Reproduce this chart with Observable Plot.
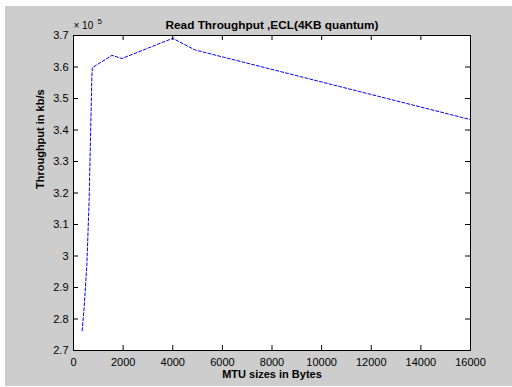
<!DOCTYPE html>
<html>
<head>
<meta charset="utf-8">
<script src="https://cdn.jsdelivr.net/npm/d3@7"></script>
<script src="https://cdn.jsdelivr.net/npm/@observablehq/plot@0.6"></script>
<style>
  html, body { margin: 0; padding: 0; background: #ffffff; }
  #wrap { position: relative; width: 512px; height: 387px; overflow: hidden; }
  #bg { position: absolute; left: 5px; top: 6px; width: 507px; height: 380px; background: #cdcdcd; }
  #chart { position: absolute; left: 0; top: 0; }
  #chart svg { background: transparent; font-family: "Liberation Sans", Arial, sans-serif; }
</style>
</head>
<body>
<div id="wrap"><div id="bg"></div><div id="chart"></div></div>
<script>
// MTU size (bytes)
const mtu = [350, 430, 540, 630, 740, 760, 1550, 1950, 4000, 4900, 16000];
// Throughput in kb/s, in units of 10^5
const throughput = [2.763, 2.837, 2.975, 3.176, 3.57, 3.598, 3.637, 3.627, 3.691, 3.654, 3.433];
const xTicks = [0, 2000, 4000, 6000, 8000, 10000, 12000, 14000, 16000];
const yTicks = [2.7, 2.8, 2.9, 3.0, 3.1, 3.2, 3.3, 3.4, 3.5, 3.6, 3.7];
const title = "Read Throughput ,ECL(4KB quantum)";
const xLabel = "MTU sizes in Bytes";
const yLabel = "Throughput in kb/s";

const data = mtu.map((m, i) => ({mtu: m, tp: throughput[i]}));

const W = 512, H = 387;
const mL = 73, mR = 42, mT = 35, mB = 37;
const pw = W - mL - mR, ph = H - mT - mB;
const tk = 5;
const font = "Liberation Sans, Arial, sans-serif";

const plot = Plot.plot({
  width: W,
  height: H,
  marginLeft: mL, marginRight: mR, marginTop: mT, marginBottom: mB,
  style: {background: "transparent", fontFamily: font, fontSize: "11px", color: "#000"},
  x: {domain: [0, 16000]},
  y: {domain: [2.7, 3.7]},
  marks: [
    Plot.frame({fill: "white", stroke: "none"}),
    Plot.line(data, {x: "mtu", y: "tp", stroke: "#0000ff", strokeWidth: 1, strokeDasharray: "3,2"}),
    // inward ticks on all four sides
    Plot.tickX(xTicks, {x: d => d, insetTop: ph - tk, stroke: "#000"}),
    Plot.tickX(xTicks, {x: d => d, insetBottom: ph - tk, stroke: "#000"}),
    Plot.tickY(yTicks, {y: d => d, insetRight: pw - tk, stroke: "#000"}),
    Plot.tickY(yTicks, {y: d => d, insetLeft: pw - tk, stroke: "#000"}),
    Plot.frame({stroke: "#000", strokeWidth: 1}),
    Plot.axisX(xTicks, {tickSize: 0, tickPadding: 8, label: null, fontSize: 11, tickFormat: d => String(d)}),
    Plot.axisY(yTicks, {tickSize: 0, tickPadding: 5, label: null, fontSize: 11, tickFormat: d => String(+d.toFixed(1))}),
    Plot.text([title], {frameAnchor: "top", lineAnchor: "bottom", dy: -7, fontWeight: "bold", fontSize: 11.8, text: d => d}),
    Plot.text([xLabel], {frameAnchor: "bottom", lineAnchor: "bottom", dy: 27, fontWeight: "bold", fontSize: 11, text: d => d}),
    Plot.text([yLabel], {frameAnchor: "left", rotate: -90, dx: -33, dy: -4, fontWeight: "bold", fontSize: 11, text: d => d}),
    Plot.text(["\u00d7 10"], {frameAnchor: "top-left", textAnchor: "start", lineAnchor: "bottom", dx: 0, dy: -7, fontSize: 10, text: d => d}),
    Plot.text(["5"], {frameAnchor: "top-left", textAnchor: "start", lineAnchor: "bottom", dx: 24, dy: -12, fontSize: 8, text: d => d})
  ]
});
document.getElementById("chart").appendChild(plot);
</script>
</body>
</html>
